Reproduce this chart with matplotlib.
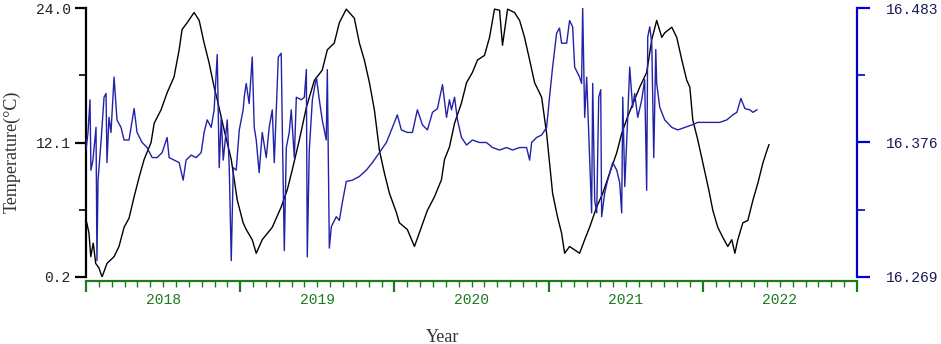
import matplotlib
matplotlib.use("Agg")
import matplotlib.pyplot as plt
from matplotlib.transforms import blended_transform_factory

# Temperature series (left axis), time in decimal years
temp_t = [2018.005, 2018.019, 2018.031, 2018.047, 2018.063, 2018.084, 2018.104, 2018.136,
          2018.182, 2018.214, 2018.247, 2018.279, 2018.312, 2018.344, 2018.377, 2018.422,
          2018.442, 2018.487, 2018.526, 2018.571, 2018.604, 2018.623, 2018.656, 2018.701,
          2018.734, 2018.766, 2018.799, 2018.831, 2018.851, 2018.896, 2018.942, 2018.981,
          2019.019, 2019.039, 2019.078, 2019.104, 2019.143, 2019.208, 2019.266, 2019.305,
          2019.338, 2019.383, 2019.429, 2019.481, 2019.532, 2019.565, 2019.610, 2019.643,
          2019.688, 2019.740, 2019.773, 2019.805, 2019.838, 2019.870, 2019.903, 2019.935,
          2019.968, 2020.013, 2020.032, 2020.084, 2020.130, 2020.175, 2020.214, 2020.260,
          2020.305, 2020.325, 2020.357, 2020.390, 2020.435, 2020.468, 2020.506, 2020.539,
          2020.584, 2020.617, 2020.649, 2020.682, 2020.701, 2020.734, 2020.779, 2020.812,
          2020.844, 2020.877, 2020.909, 2020.955, 2020.987, 2021.006, 2021.026, 2021.058,
          2021.084, 2021.104, 2021.136, 2021.169, 2021.201, 2021.234, 2021.266, 2021.312,
          2021.351, 2021.396, 2021.442, 2021.474, 2021.513, 2021.558, 2021.591, 2021.636,
          2021.669, 2021.701, 2021.734, 2021.753, 2021.799, 2021.831, 2021.864, 2021.896,
          2021.916, 2021.935, 2021.968, 2022.000, 2022.039, 2022.065, 2022.097, 2022.130,
          2022.162, 2022.188, 2022.208, 2022.227, 2022.260, 2022.292, 2022.325, 2022.357,
          2022.390, 2022.416, 2022.429]
temp_v = [5.0, 4.1, 2.0, 3.2, 1.4, 1.0, 0.2, 1.4,
          2.0, 2.9, 4.6, 5.4, 7.3, 9.0, 10.6, 12.1,
          13.8, 15.0, 16.5, 17.9, 20.3, 22.1, 22.7, 23.6,
          22.9, 20.9, 19.1, 17.0, 15.9, 13.2, 10.6, 7.0,
          5.0, 4.4, 3.5, 2.3, 3.5, 4.6, 6.4, 7.9,
          9.7, 12.3, 15.2, 17.6, 18.5, 20.3, 20.9, 22.7,
          23.9, 23.1, 20.9, 19.4, 17.4, 15.0, 11.4, 9.4,
          7.6, 5.9, 5.0, 4.4, 2.9, 4.6, 6.1, 7.3,
          8.8, 10.6, 11.7, 13.8, 15.6, 17.4, 18.3, 19.4,
          19.8, 21.4, 23.9, 23.8, 20.7, 23.9, 23.6, 22.9,
          21.4, 19.4, 17.4, 16.1, 12.9, 10.3, 7.6, 5.5,
          4.1, 2.3, 2.9, 2.6, 2.3, 3.5, 4.6, 6.4,
          7.6, 9.4, 11.2, 12.9, 14.4, 15.9, 17.0, 18.3,
          21.2, 22.9, 21.4, 21.8, 22.3, 21.4, 19.4, 17.6,
          17.0, 14.1, 12.3, 10.3, 7.9, 6.1, 4.6, 3.7,
          2.9, 3.5, 2.3, 3.5, 5.0, 5.2, 7.0, 8.5,
          10.3, 11.4, 11.9]

# Second series (right axis)
level_t = [2018.000, 2018.013, 2018.026, 2018.032, 2018.045, 2018.065, 2018.071, 2018.078,
           2018.097, 2018.117, 2018.130, 2018.136, 2018.149, 2018.162, 2018.182, 2018.201,
           2018.227, 2018.247, 2018.279, 2018.312, 2018.331, 2018.364, 2018.396, 2018.429,
           2018.461, 2018.494, 2018.526, 2018.539, 2018.571, 2018.604, 2018.630, 2018.649,
           2018.682, 2018.714, 2018.747, 2018.766, 2018.786, 2018.812, 2018.831, 2018.851,
           2018.864, 2018.877, 2018.890, 2018.916, 2018.929, 2018.942, 2018.955, 2018.974,
           2018.994, 2019.019, 2019.026, 2019.039, 2019.058, 2019.078, 2019.091, 2019.104,
           2019.123, 2019.143, 2019.169, 2019.188, 2019.208, 2019.221, 2019.234, 2019.247,
           2019.266, 2019.273, 2019.286, 2019.299, 2019.318, 2019.331, 2019.351, 2019.364,
           2019.396, 2019.416, 2019.429, 2019.435, 2019.448, 2019.468, 2019.494, 2019.513,
           2019.532, 2019.558, 2019.565, 2019.578, 2019.591, 2019.623, 2019.643, 2019.662,
           2019.688, 2019.727, 2019.773, 2019.818, 2019.857, 2019.903, 2019.948, 2019.981,
           2020.013, 2020.019, 2020.045, 2020.084, 2020.117, 2020.149, 2020.182, 2020.214,
           2020.247, 2020.279, 2020.312, 2020.338, 2020.357, 2020.370, 2020.390, 2020.409,
           2020.435, 2020.468, 2020.506, 2020.552, 2020.597, 2020.636, 2020.682, 2020.727,
           2020.766, 2020.812, 2020.857, 2020.877, 2020.890, 2020.922, 2020.955, 2020.987,
           2021.006, 2021.026, 2021.052, 2021.071, 2021.084, 2021.117, 2021.136, 2021.156,
           2021.169, 2021.201, 2021.214, 2021.221, 2021.234, 2021.247, 2021.266, 2021.279,
           2021.286, 2021.299, 2021.312, 2021.325, 2021.338, 2021.344, 2021.364, 2021.383,
           2021.416, 2021.442, 2021.461, 2021.474, 2021.481, 2021.494, 2021.513, 2021.526,
           2021.545, 2021.558, 2021.578, 2021.604, 2021.623, 2021.636, 2021.643, 2021.656,
           2021.669, 2021.682, 2021.695, 2021.701, 2021.721, 2021.753, 2021.799, 2021.838,
           2021.883, 2021.929, 2021.968, 2022.013, 2022.065, 2022.110, 2022.156, 2022.195,
           2022.221, 2022.247, 2022.273, 2022.305, 2022.325, 2022.351]
level_v = [16.370, 16.384, 16.410, 16.354, 16.362, 16.388, 16.282, 16.346,
           16.376, 16.412, 16.415, 16.360, 16.396, 16.384, 16.428, 16.394,
           16.388, 16.378, 16.378, 16.403, 16.384, 16.376, 16.372, 16.364,
           16.364, 16.368, 16.380, 16.364, 16.362, 16.360, 16.346, 16.362,
           16.366, 16.364, 16.368, 16.384, 16.394, 16.388, 16.402, 16.446,
           16.356, 16.396, 16.362, 16.394, 16.356, 16.282, 16.356, 16.354,
           16.386, 16.402, 16.412, 16.423, 16.407, 16.444, 16.388, 16.378,
           16.352, 16.384, 16.364, 16.388, 16.402, 16.360, 16.402, 16.444,
           16.447, 16.388, 16.290, 16.372, 16.384, 16.402, 16.364, 16.412,
           16.410, 16.412, 16.434, 16.285, 16.370, 16.410, 16.428, 16.410,
           16.394, 16.378, 16.434, 16.292, 16.309, 16.317, 16.314, 16.328,
           16.345, 16.346, 16.349, 16.354, 16.360, 16.368, 16.376, 16.386,
           16.396, 16.398, 16.386, 16.384, 16.384, 16.402, 16.390, 16.386,
           16.400, 16.403, 16.422, 16.396, 16.410, 16.402, 16.412, 16.394,
           16.380, 16.374, 16.378, 16.376, 16.376, 16.372, 16.370, 16.372,
           16.370, 16.372, 16.372, 16.362, 16.376, 16.380, 16.382, 16.388,
           16.412, 16.436, 16.463, 16.467, 16.455, 16.455, 16.473, 16.468,
           16.436, 16.428, 16.423, 16.483, 16.396, 16.428, 16.364, 16.320,
           16.423, 16.330, 16.320, 16.412, 16.418, 16.317, 16.336, 16.346,
           16.360, 16.354, 16.344, 16.320, 16.412, 16.341, 16.396, 16.436,
           16.404, 16.415, 16.396, 16.410, 16.426, 16.338, 16.460, 16.468,
           16.455, 16.364, 16.450, 16.423, 16.404, 16.394, 16.388, 16.386,
           16.388, 16.390, 16.392, 16.392, 16.392, 16.392, 16.394, 16.398,
           16.400, 16.411, 16.403, 16.402, 16.400, 16.402]

years = [2018, 2019, 2020, 2021, 2022]
left_ticks = [0.2, 12.1, 24.0]
right_ticks = [16.269, 16.376, 16.483]

GREEN = "#1d7a1d"
BLUE = "#2222a8"
mono = "Liberation Mono"
serif = "Liberation Serif"

fig = plt.figure(figsize=(9.41, 3.44), dpi=100)
ax = fig.add_axes([86 / 941, 1 - 277 / 344, (857 - 86) / 941, 269 / 344])
ax2 = ax.twinx()

ax.plot(temp_t, temp_v, color="black", linewidth=1.0)
ax2.plot(level_t, level_v, color=BLUE, linewidth=1.0)

ax.set_xlim(2018.0, 2023.0)
ax.set_ylim(left_ticks[0], left_ticks[-1])
ax2.set_ylim(right_ticks[0], right_ticks[-1])

# spines
for s in ["top", "right"]:
    ax.spines[s].set_visible(False)
for s in ["top", "left", "bottom"]:
    ax2.spines[s].set_visible(False)
ax.spines["left"].set_linewidth(1.6)
ax.spines["left"].set_color("black")
ax.spines["bottom"].set_color(GREEN)
ax.spines["bottom"].set_linewidth(1.6)
ax.spines["bottom"].set_position(("outward", 3))
ax2.spines["right"].set_color("#0000cc")
ax2.spines["right"].set_linewidth(1.6)

# left axis ticks
ax.set_yticks(left_ticks)
ax.set_yticklabels([f"{v:.1f}" for v in left_ticks], fontfamily=mono, fontsize=10.5)
ax.set_yticks([(left_ticks[0] + left_ticks[1]) / 2, (left_ticks[1] + left_ticks[2]) / 2], minor=True)
ax.tick_params(axis="y", which="major", length=8, width=1.6, color="black",
               labelcolor="#222222", pad=3)
ax.tick_params(axis="y", which="minor", length=5, width=1.2, color="black")

# right axis ticks
ax2.set_yticks(right_ticks)
ax2.set_yticklabels([f"{v:.3f}" for v in right_ticks], fontfamily=mono, fontsize=10.5)
ax2.set_yticks([(right_ticks[0] + right_ticks[1]) / 2, (right_ticks[1] + right_ticks[2]) / 2], minor=True)
ax2.tick_params(axis="y", which="major", length=9, width=1.6, color="#0000cc",
                labelcolor="#1a1a55", pad=12)
ax2.tick_params(axis="y", which="minor", length=6, width=1.2, color="#0000cc")

# bottom axis: year boundaries + monthly minor ticks, labels centred in each year
ax.set_xticks(years + [2023])
ax.set_xticklabels([])
ax.set_xticks([y + m / 12 for y in years for m in range(1, 12)], minor=True)
ax.tick_params(axis="x", which="major", length=8, width=1.6, color=GREEN)
ax.tick_params(axis="x", which="minor", length=4, width=1.0, color=GREEN)

trans = blended_transform_factory(ax.transData, fig.transFigure)
for y in years:
    ax.text(y + 0.5, 1 - 300 / 344, str(y), transform=trans, ha="center", va="center",
            fontfamily=mono, fontsize=10.5, color=GREEN)

fig.text(443 / 941, 1 - 337 / 344, "Year", ha="center", va="center",
         fontfamily=serif, fontsize=13, color="#333333")
fig.text(12 / 941, 1 - 152 / 344, "Temperature(°C)", ha="center", va="center",
         rotation=90, fontfamily=serif, fontsize=13, color="#333333")

fig.savefig("out.png", dpi=100)
